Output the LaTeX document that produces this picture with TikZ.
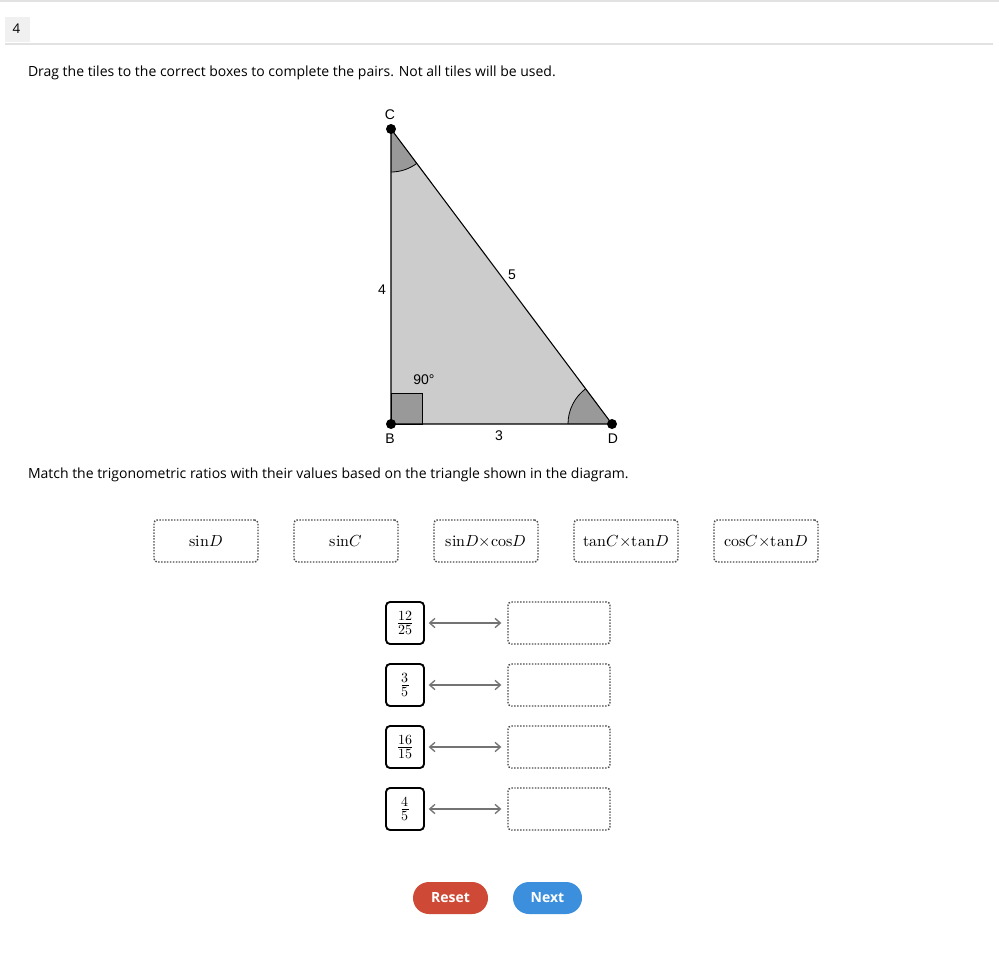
\documentclass[tikz,border=0pt]{standalone}
\usepackage{fontspec}
\setmainfont{Open Sans}
\newfontfamily\arialfont{Liberation Sans}
\usepackage{amsmath}
\usepackage{unicode-math}
\setmathfont{Latin Modern Math}
\usetikzlibrary{arrows.meta}

\definecolor{triFill}{HTML}{CCCCCC}
\definecolor{angFill}{HTML}{999999}
\definecolor{hdrGray}{HTML}{F0F0F0}
\definecolor{ruleGray}{HTML}{E2E2E2}
\definecolor{resetRed}{HTML}{CF4A36}
\definecolor{nextBlue}{HTML}{3C8FDC}

\tikzset{
  tile/.style={draw=black!70, dash pattern=on 1.1pt off 1.1pt, line width=1.1pt, rounded corners=2.5pt,
    minimum width=78pt, minimum height=31.5pt, inner sep=0pt, font=\fontsize{12}{14}\selectfont},
  dropbox/.style={tile, minimum width=76.5pt},
  fracbox/.style={draw=black, line width=1.4pt, rounded corners=3pt, minimum width=28.5pt,
    minimum height=31.5pt, inner sep=0pt, font=\fontsize{15}{17}\selectfont},
  pairarrow/.style={draw=black!55, line width=1pt, {Straight Barb[length=4pt,width=7pt]}-{Straight Barb[length=4pt,width=7pt]},
    shorten <=3.5pt, shorten >=5pt},
  btn/.style={rounded corners=12pt, minimum height=24pt, inner sep=0pt, text=white,
    font=\fontsize{10.5}{12}\selectfont\bfseries},
  trilabel/.style={font=\arialfont\fontsize{10.5}{12}\selectfont, inner sep=0pt},
  vertex/.style={circle, fill=black, inner sep=0pt, minimum size=7.5pt}
}

\begin{document}
\begin{tikzpicture}[x=0.75pt, y=-0.75pt, every node/.style={outer sep=0pt}]
\useasboundingbox (0,0) rectangle (999,967);
\fill[white] (0,0) rectangle (999,967);

% header
\draw[ruleGray, line width=1pt] (0,1) -- (999,1);
\fill[hdrGray] (5,17) rectangle (30,42);
\node[font=\fontsize{10}{12}\selectfont] (qnum) at (16.5,28.5) {4};
\draw[ruleGray, line width=1.5pt] (5,44) -- (993,44);
\node[anchor=west, font=\fontsize{10.5}{12}\selectfont, inner sep=0pt] (intro) at (28,73)
  {Drag the tiles to the correct boxes to complete the pairs. Not all tiles will be used.};

% triangle
\coordinate (C) at (391,129);
\coordinate (B) at (391,424);
\coordinate (D) at (612,424);
\fill[triFill] (C) -- (B) -- (D) -- cycle;
\fill[angFill] (C) -- ++(90:43) arc[start angle=90, end angle=53.13, radius=43] -- cycle;
\fill[angFill] (D) -- ++(180:44) arc[start angle=180, end angle=233.13, radius=44] -- cycle;
\draw[line width=0.6pt] (C) ++(90:43) arc[start angle=90, end angle=53.13, radius=43];
\draw[line width=0.6pt] (D) ++(180:44) arc[start angle=180, end angle=233.13, radius=44];
\filldraw[fill=angFill, line width=0.6pt] (B) rectangle ++(31,-31);
\draw[line width=0.8pt] (C) -- (B) -- (D) -- cycle;
\node[vertex] (vC) at (C) {};
\node[vertex] (vB) at (B) {};
\node[vertex] (vD) at (D) {};
\node[trilabel] (lC) at (390,115) {C};
\node[trilabel] (lB) at (390,439) {B};
\node[trilabel] (lD) at (613,439) {D};
\node[trilabel] (l4) at (382,290) {4};
\node[trilabel] (l5) at (512,275) {5};
\node[trilabel] (l3) at (499,436) {3};
\node[trilabel] (l90) at (424,380) {90°};

\node[anchor=west, font=\fontsize{10.5}{12}\selectfont, inner sep=0pt] (task) at (28,475)
  {Match the trigonometric ratios with their values based on the triangle shown in the diagram.};

% tiles
\node[tile] (t1) at (206,541) {$\symup{sin}D$};
\node[tile] (t2) at (346,541) {$\symup{sin}C$};
\node[tile] (t3) at (486,541) {$\symup{sin}D{\times}\symup{cos}D$};
\node[tile] (t4) at (626,541) {$\symup{tan}C{\times}\symup{tan}D$};
\node[tile] (t5) at (766,541) {$\symup{cos}C{\times}\symup{tan}D$};

% pairs
\node[fracbox] (f1) at (405,623) {$\tfrac{12}{25}$};
\node[fracbox] (f2) at (405,685) {$\tfrac{3}{5}$};
\node[fracbox] (f3) at (405,747) {$\tfrac{16}{15}$};
\node[fracbox] (f4) at (405,809) {$\tfrac{4}{5}$};

\node[dropbox] (d1) at (559,623) {};
\node[dropbox] (d2) at (559,685) {};
\node[dropbox] (d3) at (559,747) {};
\node[dropbox] (d4) at (559,809) {};

\draw[pairarrow] (f1.east) -- (d1.west);
\draw[pairarrow] (f2.east) -- (d2.west);
\draw[pairarrow] (f3.east) -- (d3.west);
\draw[pairarrow] (f4.east) -- (d4.west);

% buttons
\node[btn, fill=resetRed, minimum width=56.25pt] (reset) at (450.5,898) {Reset};
\node[btn, fill=nextBlue, minimum width=51.75pt] (next) at (547.5,898) {Next};
\end{tikzpicture}
\end{document}
